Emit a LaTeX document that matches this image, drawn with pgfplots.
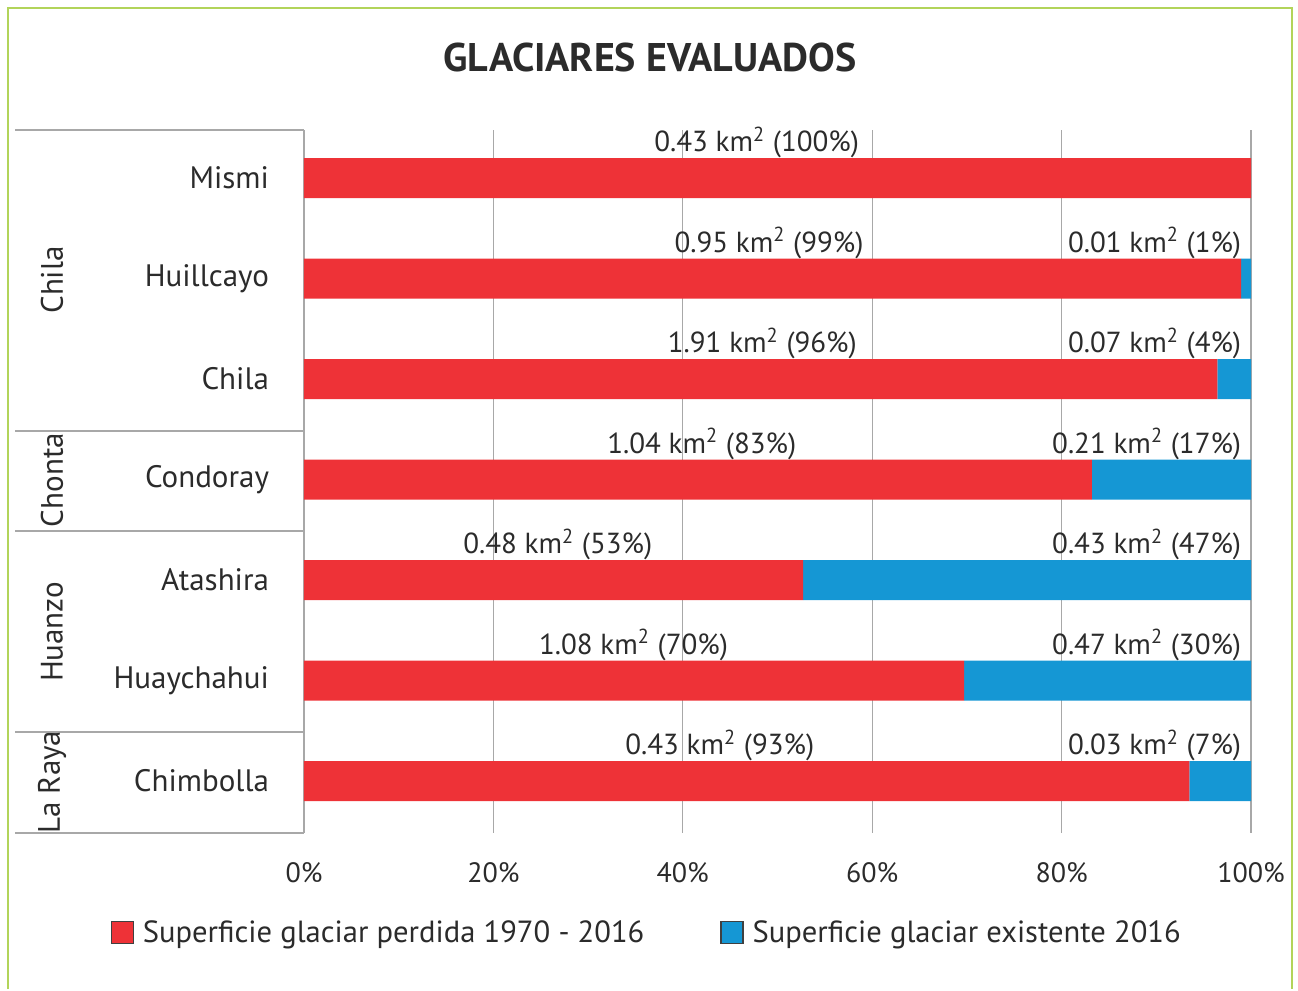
\documentclass[border=0pt]{standalone}
\usepackage{pgfplots}
\pgfplotsset{compat=1.18}
\usepackage{fontspec}
\setmainfont{PT Sans}
\definecolor{lost}{HTML}{EE3237}
\definecolor{exist}{HTML}{1597D4}
\definecolor{framec}{HTML}{B2D45A}
\definecolor{txt}{HTML}{2B2B2B}
\definecolor{rule}{HTML}{A8A8A8}
\newcommand{\km}{km\textsuperscript{2}}
\newcommand{\lblfont}{\fontsize{14.5}{17}\selectfont}
\newcommand{\catfont}{\fontsize{15.5}{18}\selectfont}
\tikzset{barlbl/.style={font=\lblfont, text=txt}}
\pgfplotsset{sqlegend/.style={legend image code/.code={%
  \draw[##1, draw=black!75, line width=0.6pt] (0pt,-5.5pt) rectangle (11pt,5.5pt);}}}

\begin{document}
\begin{tikzpicture}
\begin{scope}[x=0.5pt,y=-0.5pt]
\path (0,0) rectangle (1298,989);
\draw[framec, line width=1.3pt] (8,989) -- (8,8) -- (1292,8) -- (1292,989);
\node[font=\fontsize{20}{24}\selectfont\bfseries, text=txt] at (650,57) {GLACIARES EVALUADOS};
\draw[rule, line width=0.8pt]
  (15,130) -- (304,130) (15,431) -- (304,431) (15,531) -- (304,531)
  (15,732) -- (304,732) (15,833) -- (304,833) (304,130) -- (304,833);
\node[rotate=90, font=\catfont, text=txt] at (52,280) {Chila};
\node[rotate=90, font=\catfont, text=txt] at (52,480) {Chonta};
\node[rotate=90, font=\catfont, text=txt] at (52,632) {Huanzo};
\node[rotate=90, font=\catfont, text=txt] at (52,782) {La Raya};
\end{scope}
\begin{axis}[
    at={(152pt,-416.5pt)}, anchor=south west,
    scale only axis, width=473.5pt, height=351.5pt,
    xmin=0, xmax=100, ymin=0.522, ymax=7.517, y dir=reverse,
    xbar stacked, bar width=20pt,
    axis line style={draw=none}, major tick length=0pt,
    xtick={0,20,...,100},
    xticklabels={0\%,20\%,40\%,60\%,80\%,100\%},
    xmajorgrids, grid style={rule, line width=0.6pt},
    ytick={1,...,7},
    yticklabels={Mismi,Huillcayo,Chila,Condoray,Atashira,Huaychahui,Chimbolla},
    ticklabel style={text=txt},
    xticklabel style={font=\fontsize{14}{16}\selectfont, yshift=-11pt},
    yticklabel style={font=\catfont, xshift=-14pt},
    legend style={at={(0.363,-0.142)}, anchor=center, draw=none,
        legend columns=2, font=\fontsize{15.3}{18}\selectfont, text=txt,
        /tikz/every odd column/.append style={column sep=2.5pt},
        /tikz/every even column/.append style={column sep=36pt}},
    clip=false,
]
\addplot[fill=lost, draw=none, sqlegend]
  coordinates {(100,1) (98.96,2) (96.46,3) (83.2,4) (52.7,5) (69.7,6) (93.5,7)};
\addplot[fill=exist, draw=none, sqlegend]
  coordinates {(0,1) (1.04,2) (3.54,3) (16.8,4) (47.3,5) (30.3,6) (6.5,7)};
\legend{Superficie glaciar perdida 1970 - 2016, Superficie glaciar existente 2016}
\node[barlbl, anchor=base] at (axis cs:47.8,0.74) {0.43 \km{} (100\%)};
\node[barlbl, anchor=base] at (axis cs:49.1,1.74) {0.95 \km{} (99\%)};
\node[barlbl, anchor=base] at (axis cs:48.4,2.74) {1.91 \km{} (96\%)};
\node[barlbl, anchor=base] at (axis cs:42.0,3.74) {1.04 \km{} (83\%)};
\node[barlbl, anchor=base] at (axis cs:26.8,4.74) {0.48 \km{} (53\%)};
\node[barlbl, anchor=base] at (axis cs:34.8,5.74) {1.08 \km{} (70\%)};
\node[barlbl, anchor=base] at (axis cs:43.9,6.74) {0.43 \km{} (93\%)};
\node[barlbl, anchor=base east] at (axis cs:99.7,1.74) {0.01 \km{} (1\%)};
\node[barlbl, anchor=base east] at (axis cs:99.7,2.74) {0.07 \km{} (4\%)};
\node[barlbl, anchor=base east] at (axis cs:99.7,3.74) {0.21 \km{} (17\%)};
\node[barlbl, anchor=base east] at (axis cs:99.7,4.74) {0.43 \km{} (47\%)};
\node[barlbl, anchor=base east] at (axis cs:99.7,5.74) {0.47 \km{} (30\%)};
\node[barlbl, anchor=base east] at (axis cs:99.7,6.74) {0.03 \km{} (7\%)};
\end{axis}
\end{tikzpicture}
\end{document}
